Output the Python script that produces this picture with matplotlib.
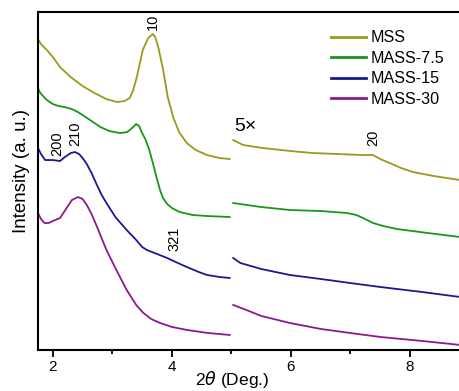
import matplotlib.pyplot as plt

plt.rcParams['font.family'] = ['Liberation Sans', 'DejaVu Sans']

# --- data (2theta in deg, intensity in arbitrary offset units) ---
mss_x = [1.75, 1.8, 1.9, 2.0, 2.12, 2.3, 2.5, 2.7, 2.9, 3.08, 3.2, 3.29, 3.35, 3.41, 3.51, 3.6, 3.68,
         3.72, 3.77, 3.85, 3.93, 4.02, 4.12, 4.25, 4.4, 4.59, 4.8, 4.97]
mss_y = [311, 306, 300, 293, 283, 273, 264, 257, 251, 248, 249, 252, 260, 273, 300, 312, 316,
         313, 303, 281, 253, 233, 218, 207, 200, 195, 192, 191]
mss_x5 = [5.03, 5.2, 5.53, 6.0, 6.37, 6.8, 7.21, 7.38, 7.5, 7.66, 7.85, 8.05, 8.4, 8.84]
mss_y5 = [210, 205, 202, 199, 197, 196, 195, 195, 191, 187, 182, 178, 174, 170]

g_x = [1.75, 1.78, 1.82, 1.9, 2.0, 2.1, 2.2, 2.32, 2.42, 2.5, 2.65, 2.8, 2.95, 3.13, 3.25, 3.33, 3.4,
       3.45, 3.5, 3.56, 3.62, 3.68, 3.74, 3.8, 3.85, 3.92, 4.0, 4.13, 4.35, 4.59, 4.97]
g_y = [262, 258, 255, 250, 246, 244, 243, 241, 238, 235, 229, 223, 219, 217, 218, 222, 226,
       224, 217, 210, 200, 187, 173, 160, 152, 146, 142, 138, 135, 134, 133]
g_x5 = [5.03, 5.5, 5.98, 6.5, 6.94, 7.1, 7.21, 7.38, 7.55, 7.78, 8.3, 8.84]
g_y5 = [147, 143, 140, 139, 137, 135, 132, 127, 124, 121, 117, 113]

b_x = [1.75, 1.8, 1.87, 2.0, 2.12, 2.2, 2.3, 2.37, 2.44, 2.5, 2.57, 2.65, 2.74, 2.82, 2.9, 3.05,
       3.24, 3.4, 3.5, 3.58, 3.75, 3.92, 4.1, 4.25, 4.45, 4.59, 4.8, 4.97]
b_y = [202, 196, 190, 190, 189, 193, 197, 198, 196, 192, 186, 177, 165, 155, 147, 133,
       120, 110, 103, 100, 96, 92, 87, 83, 78, 75, 73, 72]
b_x5 = [5.03, 5.15, 5.5, 5.98, 6.5, 6.99, 7.5, 8.2, 8.84]
b_y5 = [92, 87, 81, 75, 71, 67, 63, 58, 53]

p_x = [1.75, 1.8, 1.86, 1.93, 2.0, 2.12, 2.22, 2.32, 2.42, 2.5, 2.57, 2.65, 2.75, 2.9, 3.05, 3.24,
       3.4, 3.52, 3.65, 3.8, 4.0, 4.25, 4.6, 4.97]
p_y = [137, 131, 127, 127, 129, 132, 141, 150, 153, 151, 145, 136, 122, 100, 82, 60,
       45, 37, 31, 27, 23, 20, 17, 15]
p_x5 = [5.03, 5.25, 5.5, 5.98, 6.5, 6.99, 7.5, 8.2, 8.84]
p_y5 = [45, 40, 34, 27, 21, 17, 13, 9, 5]

labels = ['MSS', 'MASS-7.5', 'MASS-15', 'MASS-30']
colors = ['#9a9a1c', '#1a961a', '#1a1a8e', '#8c1a8c']

fig = plt.figure(figsize=(4.6, 3.91), dpi=100)
ax = fig.add_axes([0.0826, 0.105, 0.9174, 0.864])

series = [(mss_x, mss_y, mss_x5, mss_y5), (g_x, g_y, g_x5, g_y5),
          (b_x, b_y, b_x5, b_y5), (p_x, p_y, p_x5, p_y5)]
for (x1, y1, x2, y2), lab, c in zip(series, labels, colors):
    ax.plot(x1, y1, color=c, lw=1.3, label=lab)
    ax.plot(x2, y2, color=c, lw=1.3)

# peak indices
ax.text(3.68, 320, '10', rotation=90, ha='center', va='bottom', fontsize=10.5)
ax.text(2.07, 194, '200', rotation=90, ha='center', va='bottom', fontsize=10.5)
ax.text(2.37, 204, '210', rotation=90, ha='center', va='bottom', fontsize=10.5)
ax.text(4.05, 99, '321', rotation=90, ha='center', va='bottom', fontsize=10.5)
ax.text(7.38, 204, '20', rotation=90, ha='center', va='bottom', fontsize=10.5)
ax.text(5.04, 215, '5\u00d7', ha='left', va='bottom', fontsize=14)

ax.set_xlim(1.75, 8.84)
ax.set_ylim(0, 338)
ax.set_xticks([2, 4, 6, 8])
ax.set_xticks([3, 5, 7], minor=True)
ax.set_yticks([])
ax.tick_params(axis='x', which='major', direction='out', length=5, width=1.3, labelsize=11, pad=2)
ax.tick_params(axis='x', which='minor', direction='out', length=3, width=1.3)
for s in ['left', 'bottom', 'top']:
    ax.spines[s].set_linewidth(1.5)
ax.spines['right'].set_visible(False)

ax.set_xlabel(r'2$\theta$ (Deg.)', fontsize=12.5)
ax.set_ylabel('Intensity (a. u.)', fontsize=13.5)
ax.xaxis.set_label_coords(0.46, -0.055, transform=ax.transAxes)
ax.yaxis.set_label_coords(-0.038, 0.53, transform=ax.transAxes)
ax.xaxis.label.set_va('top')
ax.yaxis.label.set_va('center')

leg = ax.legend(loc='upper right', bbox_to_anchor=(0.99, 0.98), frameon=False, fontsize=11.6,
                handlelength=2.2, handletextpad=0.3, labelspacing=0.35, borderaxespad=0.3)
for h in leg.get_lines():
    h.set_linewidth(2)

fig.savefig('out.png', dpi=100)
